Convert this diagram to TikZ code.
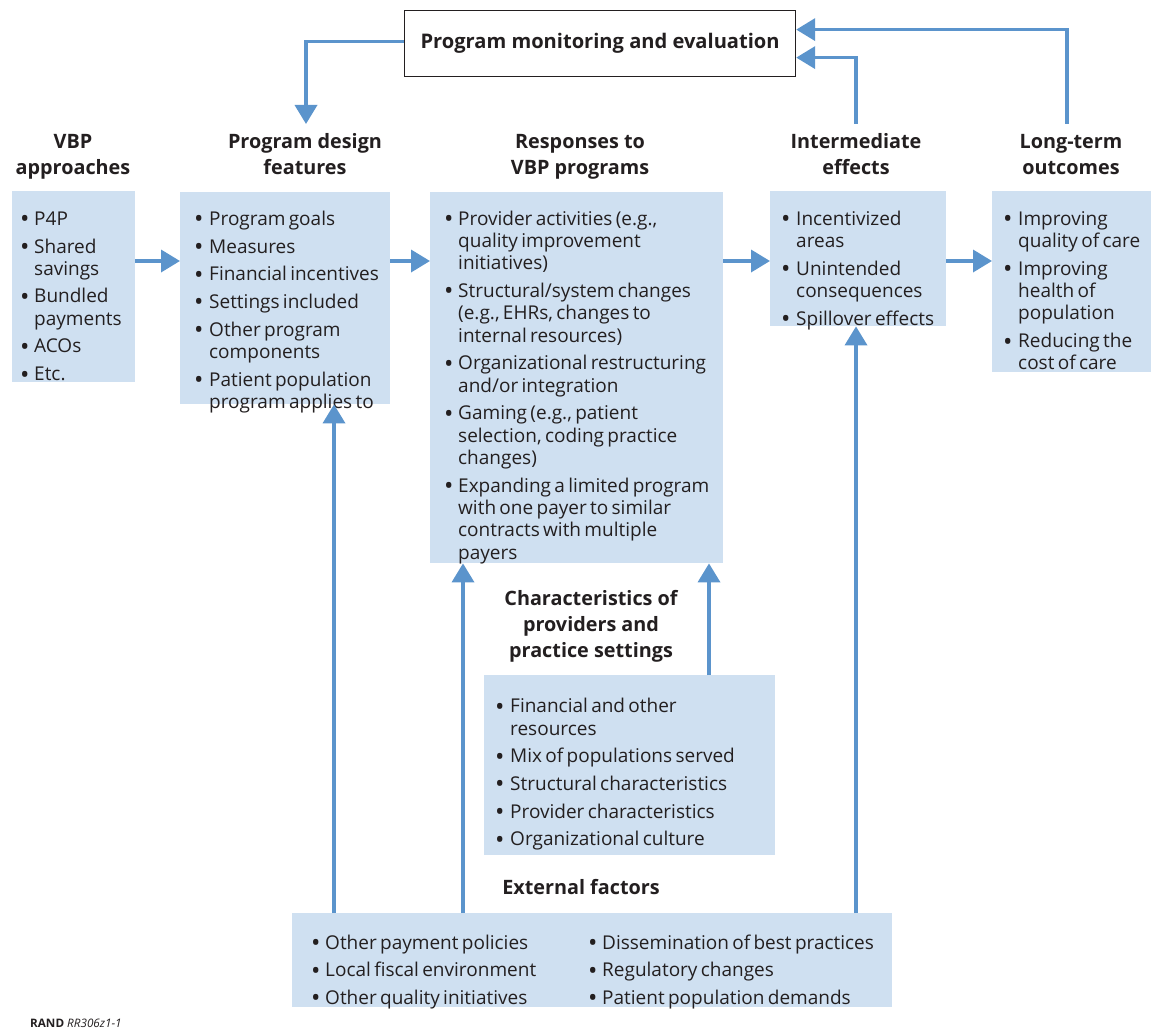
\documentclass[tikz,border=0pt]{standalone}
\usepackage{fontspec}
\setmainfont{Open Sans}
\usetikzlibrary{arrows.meta}
\definecolor{boxblue}{HTML}{CFE0F1}
\definecolor{arrowblue}{HTML}{5B94CC}
\definecolor{ink}{HTML}{231F20}
\newlength\bulhang
\newcommand\bigbul{\raisebox{-2.4pt}{\fontsize{25}{25}\selectfont •}}
\newcommand\bitem[1]{\par\hangindent=\bulhang\hangafter=1\noindent\strut\makebox[\bulhang][l]{\bigbul}#1}
\newcommand\bsetup[2]{\fontsize{19}{22.3}\selectfont\setlength\parskip{#2}\setlength\bulhang{#1}\hyphenpenalty=10000\parindent=0pt}
\tikzset{
  box/.style={fill=boxblue, draw=none, inner sep=0pt, anchor=north west},
  txt/.style={anchor=north west, inner sep=0pt, text width=420pt, text=ink},
  head/.style={anchor=north, align=center, inner sep=0pt, text=ink, font=\fontsize{19.8}{26}\selectfont\bfseries},
  arr/.style={draw=arrowblue, line width=3.6pt, -{Triangle[length=19pt,width=22pt]}},
}
\begin{document}
\begin{tikzpicture}[x=1pt,y=-1pt]
\useasboundingbox (0,0) rectangle (1151,1030);
\fill[white] (0,0) rectangle (1151,1030);

% top box
\node[draw=ink, line width=1.2pt, fill=white, minimum width=391pt, minimum height=66pt,
      anchor=north west, inner sep=0pt, text=ink,
      font=\fontsize{20.1}{24}\selectfont\bfseries] (pme) at (404,10) {Program monitoring and evaluation};

% headings
\node[head] (hvbp) at (73,129.8) {\strut VBP\\\strut approaches};
\node[head] (hdes) at (305,129.8) {\strut Program design\\\strut features};
\node[head] (hres) at (580,129.8) {\strut Responses to\\\strut VBP programs};
\node[head] (hint) at (856,129.8) {\strut Intermediate\\\strut effects};
\node[head] (hlt) at (1071,129.8) {\strut Long-term\\\strut outcomes};
\node[head] (hchar) at (591,586.8) {\strut Characteristics of\\\strut providers and\\\strut practice settings};
\node[head] (hext) at (581,875.8) {\strut External factors};

% boxes
\node[box, minimum width=123pt, minimum height=191pt] (vbp) at (12,191) {};
\node[box, minimum width=210pt, minimum height=212pt] (design) at (180,192) {};
\node[box, minimum width=293pt, minimum height=371pt] (resp) at (430,192) {};
\node[box, minimum width=176pt, minimum height=135pt] (inter) at (770,191) {};
\node[box, minimum width=159pt, minimum height=181pt] (lt) at (992,191) {};
\node[box, minimum width=291pt, minimum height=180pt] (chars) at (484,675) {};
\node[box, minimum width=600pt, minimum height=94pt] (ext) at (292,913) {};

% box texts
\node[txt] (tvbp) at (20,197.4) {\bsetup{14pt}{5.4pt}%
\bitem{P4P}
\bitem{Shared\newline savings}
\bitem{Bundled\newline payments}
\bitem{ACOs}
\bitem{Etc.}\par};
\node[txt] (tdes) at (194,197.4) {\bsetup{15pt}{5.4pt}%
\bitem{Program goals}
\bitem{Measures}
\bitem{Financial incentives}
\bitem{Settings included}
\bitem{Other program\newline components}
\bitem{Patient population\newline program applies to}\par};
\node[txt] (tres) at (444,197.4) {\bsetup{14pt}{5.4pt}%
\bitem{Provider activities (e.g.,\newline quality improvement\newline initiatives)}
\bitem{Structural/system changes\newline (e.g., EHRs, changes to\newline internal resources)}
\bitem{Organizational restructuring\newline and/or integration}
\bitem{Gaming (e.g., patient\newline selection, coding practice\newline changes)}
\bitem{Expanding a limited program\newline with one payer to similar\newline contracts with multiple\newline payers}\par};
\node[txt] (tint) at (781,197.4) {\bsetup{15pt}{5.4pt}%
\bitem{Incentivized\newline areas}
\bitem{Unintended\newline consequences}
\bitem{Spillover effects}\par};
\node[txt] (tlt) at (1003,197.4) {\bsetup{15pt}{5.4pt}%
\bitem{Improving\newline quality of care}
\bitem{Improving\newline health of\newline population}
\bitem{Reducing the\newline cost of care}\par};
\node[txt] (tchar) at (495,684.9) {\bsetup{15pt}{5.4pt}%
\bitem{Financial and other\newline resources}
\bitem{Mix of populations served}
\bitem{Structural characteristics}
\bitem{Provider characteristics}
\bitem{Organizational culture}\par};
\node[txt] (text1) at (311,921.4) {\bsetup{14pt}{5.2pt}%
\bitem{Other payment policies}
\bitem{Local fiscal environment}
\bitem{Other quality initiatives}\par};
\node[txt] (text2) at (588,921.4) {\bsetup{14pt}{5.2pt}%
\bitem{Dissemination of best practices}
\bitem{Regulatory changes}
\bitem{Patient population demands}\par};

% label
\node[anchor=base west, inner sep=0pt, text=ink, font=\fontsize{11.7}{14}\selectfont] (rand) at (30,1027) {\textbf{RAND} \textit{RR306z1-1}};

% connectors
\coordinate (row) at (0,261);
\draw[arr] (vbp.east |- row) -- (design.west |- row);
\draw[arr] (design.east |- row) -- (resp.west |- row);
\draw[arr] (resp.east |- row) -- (inter.west |- row);
\draw[arr] (inter.east |- row) -- (lt.west |- row);

\coordinate (pmtip) at (306,124);
\draw[arr] ([yshift=2pt]pme.west) -| (pmtip);
\coordinate (ltfoot) at (1067,124);
\draw[arr] (ltfoot) |- ([yshift=14pt]pme.east);
\coordinate (iefoot) at (856,124);
\draw[arr] (iefoot) |- ([yshift=-14pt]pme.east);

\coordinate (u1) at (334,0);
\coordinate (u2) at (463,0);
\coordinate (u3) at (709,0);
\coordinate (u4) at (856,0);
\draw[arr] (ext.north -| u1) -- (design.south -| u1);
\draw[arr] (ext.north -| u2) -- (resp.south -| u2);
\draw[arr] (chars.north -| u3) -- (resp.south -| u3);
\draw[arr] (ext.north -| u4) -- (inter.south -| u4);
\end{tikzpicture}
\end{document}
